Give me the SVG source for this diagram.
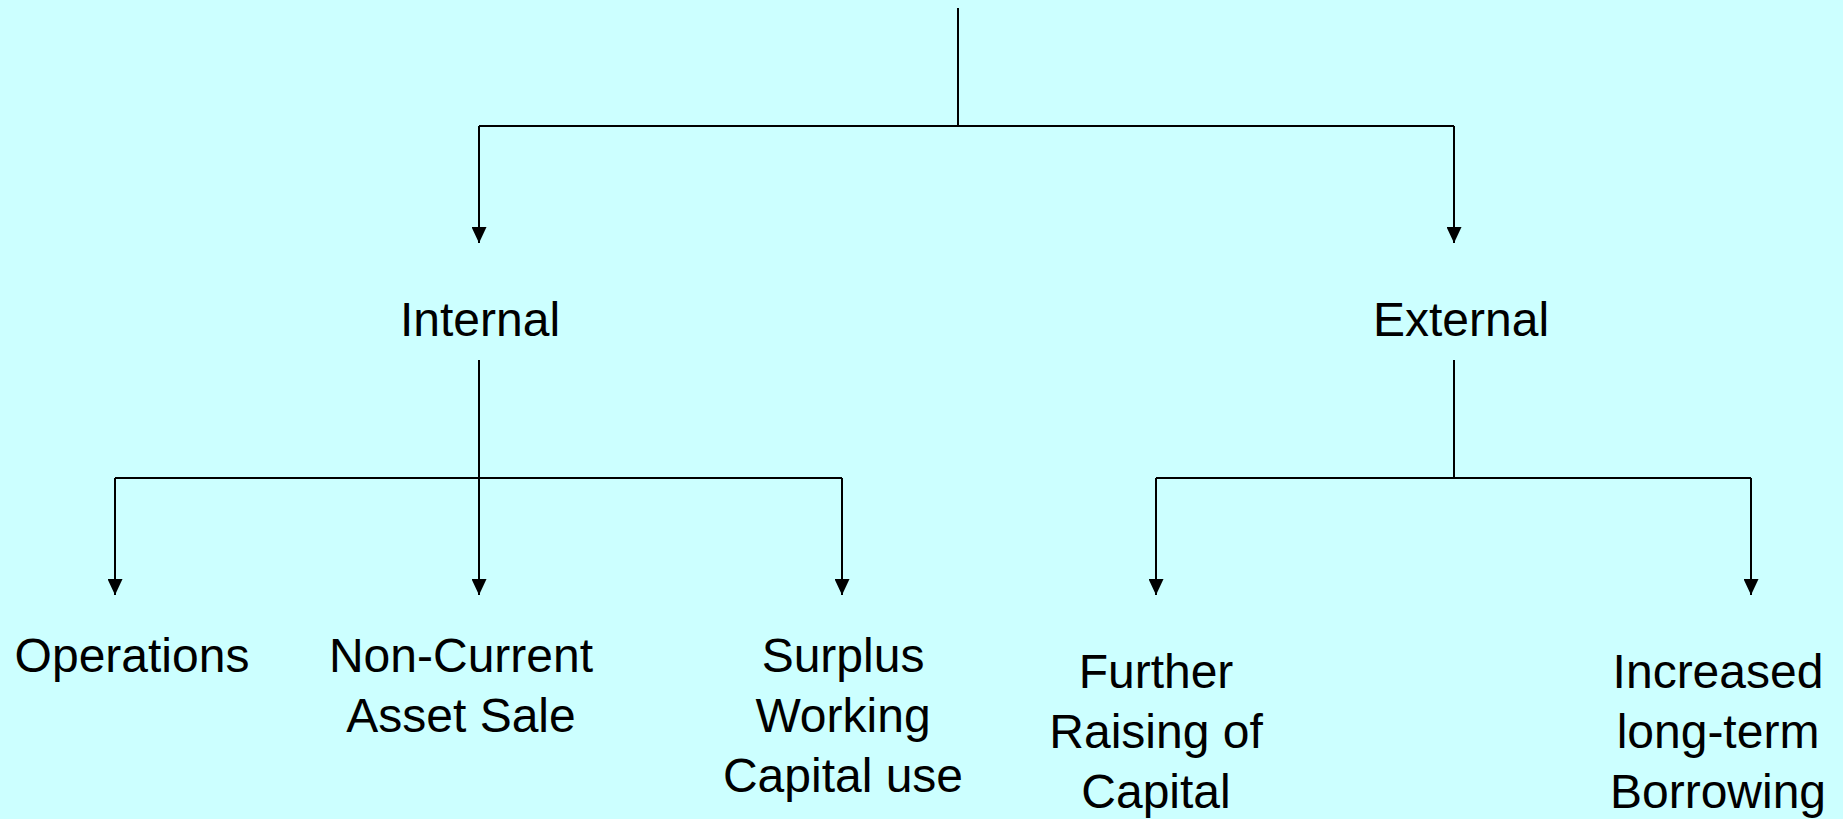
<svg xmlns="http://www.w3.org/2000/svg" width="1843" height="819" viewBox="0 0 1843 819">
  <style>
    .t { font-family: "Liberation Sans", Arial, sans-serif; font-size: 48px; fill: #000; text-anchor: middle; }
    .c { fill: none; stroke: #000; stroke-width: 2; }
    .a { marker-end: url(#arr); }
  </style>
  <defs>
    <marker id="arr" viewBox="0 0 16 15" refX="16" refY="7.5" markerWidth="16" markerHeight="15" markerUnits="userSpaceOnUse" orient="auto">
      <path d="M0,0 L16,7.5 L0,15 z" fill="#000"/>
    </marker>
  </defs>
  <rect x="0" y="0" width="1843" height="819" fill="#CCFFFF"/>
  <g id="connectors">
    <path class="c" d="M958,8 V126"/>
    <path class="c" d="M479,126 H1454"/>
    <path class="c a" d="M479,126 V243"/>
    <path class="c a" d="M1454,126 V243"/>
    <path class="c a" d="M479,360 V595"/>
    <path class="c" d="M115,478 H842"/>
    <path class="c a" d="M115,478 V595"/>
    <path class="c a" d="M842,478 V595"/>
    <path class="c" d="M1454,360 V478"/>
    <path class="c" d="M1156,478 H1751"/>
    <path class="c a" d="M1156,478 V595"/>
    <path class="c a" d="M1751,478 V595"/>
  </g>
  <g id="internal"><text class="t" x="480" y="336">Internal</text></g>
  <g id="external"><text class="t" x="1461" y="336">External</text></g>
  <g id="operations"><text class="t" x="132" y="672">Operations</text></g>
  <g id="noncurrent"><text class="t" x="461" y="672">Non-Current</text><text class="t" x="461" y="732">Asset Sale</text></g>
  <g id="surplus"><text class="t" x="843" y="672">Surplus</text><text class="t" x="843" y="732">Working</text><text class="t" x="843" y="792">Capital use</text></g>
  <g id="further"><text class="t" x="1156" y="688">Further</text><text class="t" x="1156" y="748">Raising of</text><text class="t" x="1156" y="808">Capital</text></g>
  <g id="increased"><text class="t" x="1718" y="688">Increased</text><text class="t" x="1718" y="748">long-term</text><text class="t" x="1718" y="808">Borrowing</text></g>
</svg>
